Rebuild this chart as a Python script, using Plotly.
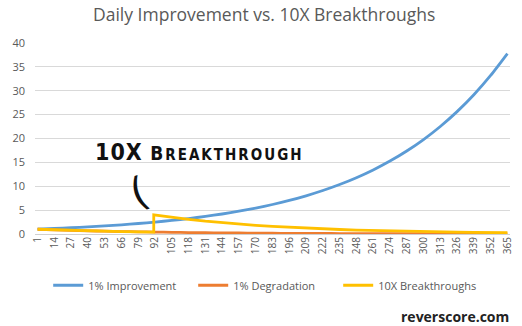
import plotly.graph_objects as go

# Day numbers sampled every 13 days (also the x tick positions)
days = [1, 14, 27, 40, 53, 66, 79, 92, 105, 118, 131, 144, 157, 170, 183,
        196, 209, 222, 235, 248, 261, 274, 287, 300, 313, 326, 339, 352, 365]

improvement = [1.01, 1.149, 1.308, 1.489, 1.694, 1.929, 2.195, 2.498, 2.843,
               3.235, 3.682, 4.190, 4.769, 5.428, 6.177, 7.030, 8.001, 9.106,
               10.364, 11.795, 13.423, 15.277, 17.387, 19.788, 22.520, 25.630,
               29.17, 33.20, 37.78]

degradation = [0.99, 0.869, 0.762, 0.669, 0.587, 0.515, 0.452, 0.397, 0.348,
               0.306, 0.268, 0.235, 0.206, 0.181, 0.159, 0.139, 0.122, 0.107,
               0.094, 0.083, 0.073, 0.064, 0.056, 0.049, 0.043, 0.038, 0.033,
               0.029, 0.026]

# Breakthrough series: decays like degradation, then jumps tenfold on day 91
breakthrough_days = [1, 14, 27, 40, 53, 66, 79, 91, 91, 105, 118, 131, 144,
                     157, 170, 183, 196, 209, 222, 235, 248, 261, 274, 287,
                     300, 313, 326, 339, 352, 365]
breakthrough = [0.99, 0.869, 0.762, 0.669, 0.587, 0.515, 0.452, 0.401, 4.01,
                3.48, 3.06, 2.68, 2.35, 2.06, 1.81, 1.59, 1.39, 1.22, 1.07,
                0.94, 0.83, 0.73, 0.64, 0.56, 0.49, 0.43, 0.38, 0.33, 0.29,
                0.26]

tick_labels = [str(d) for d in days]
y_ticks = [0, 5, 10, 15, 20, 25, 30, 35, 40]

grey = "#595959"
font_family = "Open Sans, Liberation Sans, sans-serif"

fig = go.Figure()
fig.add_trace(go.Scatter(
    x=days, y=improvement, mode="lines", name="1% Improvement",
    line=dict(color="#5B9BD5", width=2.8, shape="spline", smoothing=0.6)))
fig.add_trace(go.Scatter(
    x=days, y=degradation, mode="lines", name="1% Degradation",
    line=dict(color="#ED7D31", width=2.8, shape="spline", smoothing=0.6)))
fig.add_trace(go.Scatter(
    x=breakthrough_days, y=breakthrough, mode="lines", name="10X Breakthroughs",
    line=dict(color="#FFC000", width=2.8)))

fig.update_layout(
    width=522, height=326,
    margin=dict(l=35, r=8, t=43, b=92),
    paper_bgcolor="white", plot_bgcolor="white",
    font=dict(family=font_family, color=grey),
    title=dict(text="Daily Improvement vs. 10X Breakthroughs",
               x=0.506, xref="container", xanchor="center",
               y=0.955, yref="container", yanchor="middle",
               font=dict(size=17.5, color=grey)),
    showlegend=True,
    legend=dict(orientation="h", x=0.509, xanchor="center", xref="container",
                y=0.125, yanchor="middle", yref="container",
                font=dict(size=11, color=grey), entrywidth=100,
                itemwidth=30, tracegroupgap=0),
    xaxis=dict(range=[-1, 367], tickmode="array", tickvals=days,
               ticktext=tick_labels, tickangle=-90, showgrid=False,
               zeroline=False, showline=False, ticks="",
               tickfont=dict(size=10, color=grey)),
    yaxis=dict(range=[0, 40], tickmode="array", tickvals=y_ticks,
               showgrid=True, gridcolor="#D9D9D9", gridwidth=1,
               zeroline=True, zerolinecolor="#D0D0D0", zerolinewidth=1,
               showline=False, ticks="", ticklabelstandoff=9,
               tickfont=dict(size=11, color=grey)),
)

# Hand-drawn style callout for the breakthrough
fig.add_annotation(
    text=("<b><span style='font-size:23px;letter-spacing:1px'>10X</span>  "
          "<span style='font-size:19px;letter-spacing:2px'>B</span>"
          "<span style='font-size:15px;letter-spacing:2px'>REAKTHROUGH</span></b>"),
    xref="paper", yref="paper", x=0.122, y=0.43, xanchor="left",
    yanchor="middle", showarrow=False,
    font=dict(family="DejaVu Sans Condensed, DejaVu Sans", color="#111111"))
fig.add_annotation(
    text="(", xref="paper", yref="paper", x=0.218, y=0.22,
    xanchor="center", yanchor="middle", showarrow=False, textangle=-20,
    font=dict(family="DejaVu Sans", size=40, color="#111111"))

fig.add_annotation(
    text="<b>reverscore.com</b>", xref="paper", yref="paper",
    x=1.003, y=-0.43, xanchor="right", yanchor="middle", showarrow=False,
    font=dict(family="Open Sans, sans-serif", size=14, color="#222222"))

fig.write_html("out.html")
